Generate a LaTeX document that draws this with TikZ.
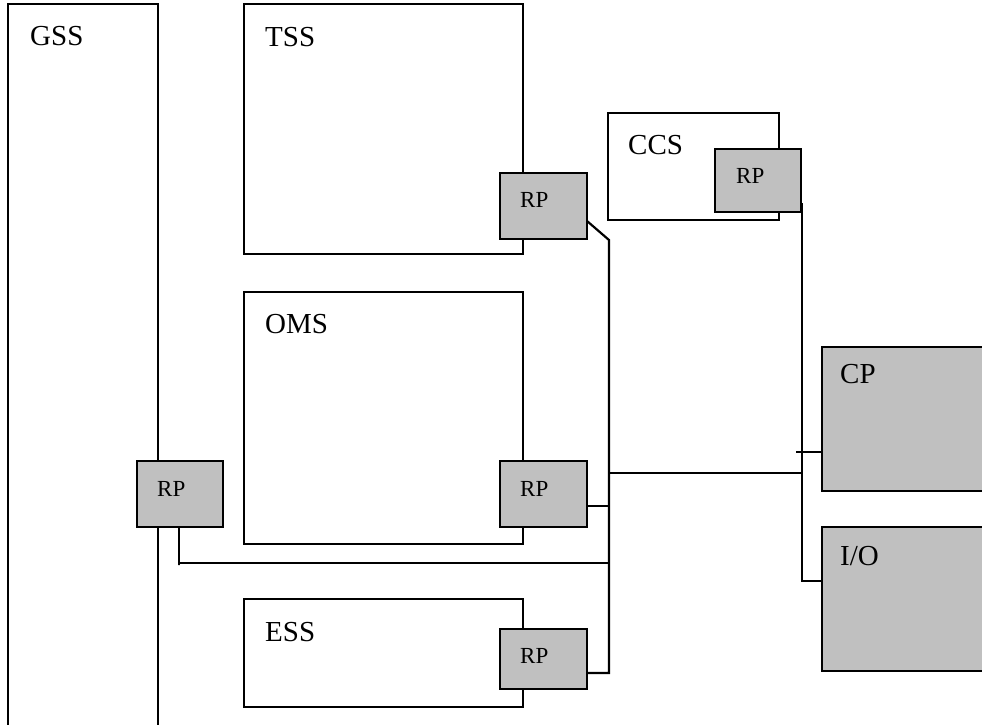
\documentclass[tikz,border=0pt]{standalone}
\usepackage{fontspec}
\setmainfont{Liberation Serif}
\usetikzlibrary{calc}
\definecolor{rpgray}{HTML}{C0C0C0}
\begin{document}
\begin{tikzpicture}[x=1pt,y=-1pt,
  box/.style={draw=black,line width=2.2pt,fill=white,inner sep=0pt,outer sep=0pt,anchor=north west},
  gbox/.style={box,fill=rpgray},
  lbl/.style={anchor=base west,inner sep=0pt,font=\fontsize{29}{29}\selectfont},
  rplbl/.style={anchor=base west,inner sep=0pt,font=\fontsize{23}{23}\selectfont},
  wire/.style={draw=black,line width=2.2pt}]
\useasboundingbox (0,0) rectangle (982,724);
\clip (0,0) rectangle (982,724);
% main subsystem boxes
\node[box,minimum width=150pt,minimum height=740pt] (gss) at (8,4) {};
\node[box,minimum width=279pt,minimum height=250pt] (tss) at (244,4) {};
\node[box,minimum width=279pt,minimum height=252pt] (oms) at (244,292) {};
\node[box,minimum width=279pt,minimum height=108pt] (ess) at (244,599) {};
\node[box,minimum width=171pt,minimum height=107pt] (ccs) at (608,113) {};
\node[gbox,minimum width=180pt,minimum height=144pt] (cp) at (822,347) {};
\node[gbox,minimum width=180pt,minimum height=144pt] (io) at (822,527) {};
% RP boxes
\node[gbox,minimum width=87pt,minimum height=66pt] (rpT) at (500,173) {};
\node[gbox,minimum width=87pt,minimum height=66pt] (rpO) at (500,461) {};
\node[gbox,minimum width=87pt,minimum height=60pt] (rpE) at (500,629) {};
\node[gbox,minimum width=86pt,minimum height=66pt] (rpG) at (137,461) {};
\node[gbox,minimum width=86pt,minimum height=63pt] (rpC) at (715,149) {};
% labels
\node[lbl] (tGSS) at (30,45) {GSS};
\node[lbl] (tTSS) at (265,46) {TSS};
\node[lbl] (tOMS) at (265,333) {OMS};
\node[lbl] (tESS) at (265,641) {ESS};
\node[lbl] (tCCS) at (628,154) {CCS};
\node[lbl] (tCP) at (840,383) {CP};
\node[lbl] (tIO) at (840,565) {I/O};
\node[rplbl] at ($(rpT.north west)+(20,34)$) {RP};
\node[rplbl] at ($(rpO.north west)+(20,35)$) {RP};
\node[rplbl] at ($(rpE.north west)+(20,34)$) {RP};
\node[rplbl] at ($(rpG.north west)+(20,35)$) {RP};
\node[rplbl] at ($(rpC.north west)+(21,34)$) {RP};
% bus coordinates
\coordinate (busTop) at (609,240);
\coordinate (busBot) at (609,673);
\coordinate (busMid) at (609,473);
\coordinate (rtBus) at (802,473);
\coordinate (rtTop) at (802,203);
% connectors
\draw[wire] ($(rpT.south east)+(0,-18)$) -- (busTop) -- (busBot) -- (busBot -| rpE.east);
\draw[wire] ($(rpO.south east)+(0,-21)$) -- (609,506);
\draw[wire] (rpG.south -| 179,0) -- (179,565) -- (179,563) -- (609,563);
\draw[wire] (busMid) -- (rtBus);
\draw[wire] (rtTop) -- (802,581) -- (io.west |- 0,581);
\draw[wire] (796,452) -- (cp.west |- 0,452);
\end{tikzpicture}
\end{document}
